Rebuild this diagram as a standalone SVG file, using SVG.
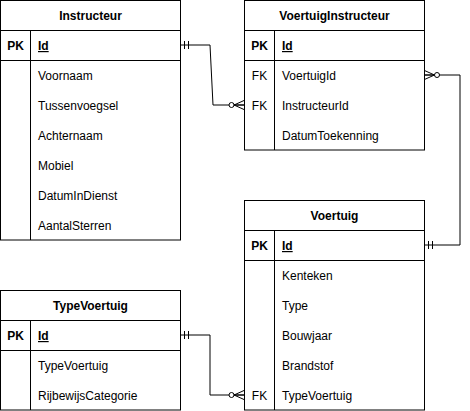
<svg xmlns="http://www.w3.org/2000/svg" width="470" height="411" viewBox="0 0 470 411">
<style>
  .box{fill:#fff;stroke:#000;stroke-width:1}
  .ln{stroke:#000;stroke-width:1;fill:none}
  text{font-family:"Liberation Sans",Arial,Helvetica,sans-serif;font-size:12px;fill:#000}
  .h{font-weight:bold;text-anchor:middle}
  .k{text-anchor:middle}
  .b{font-weight:bold}
  .u{font-weight:bold;text-decoration:underline}
  .conn{stroke:#000;stroke-width:1;fill:none}
</style>
<defs>
  <marker id="one" viewBox="-20 -10 20 20" markerWidth="20" markerHeight="20" refX="0" refY="0" markerUnits="userSpaceOnUse" orient="auto-start-reverse">
    <path d="M-4,-4 V4 M-8,-4 V4" stroke="#000" stroke-width="1" fill="none"/>
  </marker>
  <marker id="many" viewBox="-20 -10 20 20" markerWidth="20" markerHeight="20" refX="0" refY="0" markerUnits="userSpaceOnUse" orient="auto-start-reverse">
    <path d="M0,-4.5 L-10,0 L0,4.5 M-10,0 H0" stroke="#000" stroke-width="1" fill="none"/>
    <circle cx="-12.5" cy="0" r="2.5" fill="#fff" stroke="#000" stroke-width="1"/>
  </marker>
</defs>

<g id="connectors">
  <path class="conn" d="M180.5,45 H210 L213,105 H244" marker-start="url(#one)" marker-end="url(#many)"/>
  <path class="conn" d="M424.5,75 H460 V245 H424.5" marker-start="url(#many)" marker-end="url(#one)"/>
  <path class="conn" d="M180.5,335 H210 V395 H244" marker-start="url(#one)" marker-end="url(#many)"/>
</g>

<g id="Instructeur">
  <rect class="box" x="0.5" y="0.5" width="180" height="239.5"/>
  <path class="ln" d="M0.5,30.5 H180.5 M0.5,60.5 H180.5 M30.5,30.5 V240"/>
  <text class="h" x="90.5" y="20">Instructeur</text>
  <text class="k b" x="15.5" y="50">PK</text>
  <text class="u" x="38" y="50">Id</text>
  <text x="38" y="80">Voornaam</text>
  <text x="38" y="110">Tussenvoegsel</text>
  <text x="38" y="140">Achternaam</text>
  <text x="38" y="170">Mobiel</text>
  <text x="38" y="200">DatumInDienst</text>
  <text x="38" y="230">AantalSterren</text>
</g>

<g id="VoertuigInstructeur">
  <rect class="box" x="244.5" y="0.5" width="180" height="149.5"/>
  <path class="ln" d="M244.5,30.5 H424.5 M244.5,60.5 H424.5 M274.5,30.5 V150"/>
  <text class="h" x="334.5" y="20">VoertuigInstructeur</text>
  <text class="k b" x="259.5" y="50">PK</text>
  <text class="u" x="282" y="50">Id</text>
  <text class="k" x="259.5" y="80">FK</text>
  <text x="282" y="80">VoertuigId</text>
  <text class="k" x="259.5" y="110">FK</text>
  <text x="282" y="110">InstructeurId</text>
  <text x="282" y="140">DatumToekenning</text>
</g>

<g id="Voertuig">
  <rect class="box" x="244.5" y="200.5" width="180" height="209.5"/>
  <path class="ln" d="M244.5,230.5 H424.5 M244.5,260.5 H424.5 M274.5,230.5 V410"/>
  <text class="h" x="334.5" y="220">Voertuig</text>
  <text class="k b" x="259.5" y="250">PK</text>
  <text class="u" x="282" y="250">Id</text>
  <text x="282" y="280">Kenteken</text>
  <text x="282" y="310">Type</text>
  <text x="282" y="340">Bouwjaar</text>
  <text x="282" y="370">Brandstof</text>
  <text class="k" x="259.5" y="400">FK</text>
  <text x="282" y="400">TypeVoertuig</text>
</g>

<g id="TypeVoertuig">
  <rect class="box" x="0.5" y="290.5" width="180" height="119.5"/>
  <path class="ln" d="M0.5,320.5 H180.5 M0.5,350.5 H180.5 M30.5,320.5 V410"/>
  <text class="h" x="90.5" y="310">TypeVoertuig</text>
  <text class="k b" x="15.5" y="340">PK</text>
  <text class="u" x="38" y="340">Id</text>
  <text x="38" y="370">TypeVoertuig</text>
  <text x="38" y="400">RijbewijsCategorie</text>
</g>
</svg>
